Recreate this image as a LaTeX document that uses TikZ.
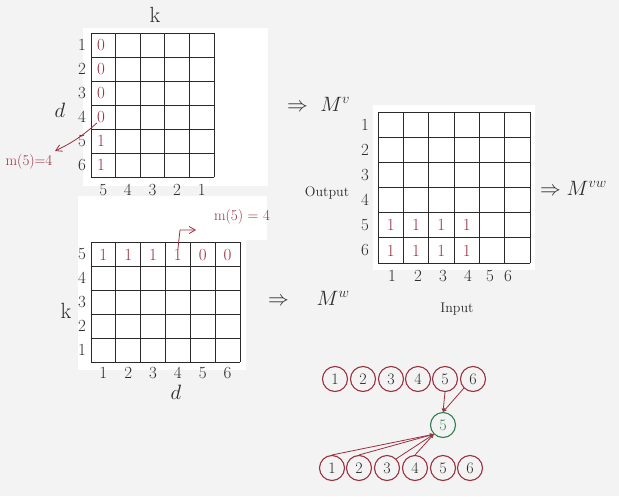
\documentclass[tikz,border=0pt]{standalone}
\usetikzlibrary{arrows.meta}
\definecolor{paper}{HTML}{F3F3F3}
\definecolor{ink}{HTML}{2A2A2A}
\definecolor{redink}{HTML}{9A3040}
\definecolor{greenink}{HTML}{2E8050}
\tikzset{
  gridline/.style={draw=ink, line width=0.9pt},
  lbl/.style={text=ink, font=\fontsize{17}{19}\selectfont, inner sep=0pt},
  txt/.style={text=ink, font=\fontsize{14}{16}\selectfont, inner sep=0pt},
  big/.style={text=ink, font=\fontsize{22}{24}\selectfont, inner sep=0pt},
  rlbl/.style={text=redink, font=\fontsize{17}{19}\selectfont, inner sep=0pt},
  rtxt/.style={text=redink, font=\fontsize{15}{17}\selectfont, inner sep=0pt},
  circ/.style={circle, draw=redink, line width=1.1pt, minimum size=25pt, inner sep=0pt, text=ink, font=\fontsize{16}{18}\selectfont},
  gcirc/.style={circle, draw=greenink, line width=1.1pt, minimum size=25pt, inner sep=0pt, text=greenink, font=\fontsize{16}{18}\selectfont},
  conn/.style={draw=redink, line width=0.8pt, -{Stealth[length=4pt,width=3.5pt]}},
}
\begin{document}
\begin{tikzpicture}[x=1pt,y=-1pt]
\useasboundingbox (0,0) rectangle (619,496);
\fill[paper] (0,0) rectangle (619,496);
% white sheets
\fill[white] (83,28) rectangle (268,186);
\fill[white] (78,196) rectangle (267,240);
\fill[white] (78,240) rectangle (246,370);
\fill[white] (373,105) rectangle (535,270);

% ---------- top-left grid (6 rows x 5 cols) ----------
\foreach \i in {0,...,5}{ \draw[gridline] ({91+24.6*\i},33) -- ({91+24.6*\i},177); }
\foreach \j in {0,...,6}{ \draw[gridline] (91,{33+24*\j}) -- (214,{33+24*\j}); }
\node[big] (k1) at (155,15) {k};
\node[big] (d1) at (60,110) {$d$};
\foreach \r in {1,...,6}{
  \node[lbl] (tlr\r) at (82,{33+12+24*(\r-1)}) {\r};
}
\foreach \c/\t in {1/5,2/4,3/3,4/2,5/1}{
  \node[lbl] (tlc\c) at ({91+12.3+24.6*(\c-1)},190) {\t};
}
\foreach \r/\t in {1/0,2/0,3/0,4/0,5/1,6/1}{
  \node[rlbl] (tlv\r) at (101,{33+12+24*(\r-1)}) {\t};
}
\node[rtxt] (m1) at (29,162) {m(5)=4};
\draw[redink, line width=0.8pt, -{Straight Barb[length=6pt,width=7pt]}] (tlv4.south west) to[bend left=8] (55,151);

% ---------- bottom-left grid (5 rows x 6 cols) ----------
\foreach \i in {0,...,6}{ \draw[gridline] ({91+24.83*\i},242) -- ({91+24.83*\i},362); }
\foreach \j in {0,...,5}{ \draw[gridline] (91,{242+24*\j}) -- (240,{242+24*\j}); }
\foreach \r/\t in {1/5,2/4,3/3,4/2,5/1}{
  \node[lbl] (blr\r) at (82,{242+12+24*(\r-1)}) {\t};
}
\foreach \c in {1,...,6}{
  \node[lbl] (blc\c) at ({91+12.4+24.83*(\c-1)},373) {\c};
}
\foreach \c/\t in {1/1,2/1,3/1,4/1,5/0,6/0}{
  \node[rlbl] (blv\c) at ({91+12.4+24.83*(\c-1)},255) {\t};
}
\node[big] (k2) at (66,311) {k};
\node[big] (d2) at (176,392) {$d$};
\node[rtxt] (m2) at (242,217) {m(5) = 4};
\coordinate (bend2) at (180,230);
\coordinate (tip2) at (196,230);
\draw[redink, line width=0.8pt, -{Straight Barb[length=6pt,width=7pt]}] (blv4.north) -- (bend2) -- (tip2);

% ---------- right grid (6 x 6) ----------
\foreach \i in {0,...,6}{ \draw[gridline] ({378+25.33*\i},112) -- ({378+25.33*\i},263); }
\foreach \j in {0,...,6}{ \draw[gridline] (378,{112+25.17*\j}) -- (530,{112+25.17*\j}); }
\foreach \r in {1,...,6}{
  \node[lbl] (rr\r) at (365,{112+12.6+25.17*(\r-1)}) {\r};
}
\foreach \c/\xx in {1/392,2/418,3/443,4/468,5/490,6/508}{
  \node[lbl] (rc\c) at (\xx,276) {\c};
}
\foreach \r in {5,6}{
  \foreach \c in {1,...,4}{
    \node[rlbl] (rv\r\c) at ({378+12.7+25.33*(\c-1)},{112+12.6+25.17*(\r-1)}) {1};
  }
}
\node[txt] (outp) at (327,193) {Output};
\node[txt] (inp) at (457,309) {Input};

% ---------- arrows to M ----------
\node[big, anchor=west] (mv) at (287,104) {$\Rightarrow\ M^{v}$};
\node[big, anchor=west] (mvw) at (540,188) {$\Rightarrow M^{vw}$};
\node[big, anchor=west] (mw) at (268,298) {$\Rightarrow\quad M^{w}$};

% ---------- graph ----------
\foreach \i/\xx in {1/335,2/363,3/391,4/418,5/445,6/473}{
  \node[circ] (t\i) at (\xx,379) {\i};
}
\foreach \i/\xx in {1/332,2/359,3/387,4/415,5/443,6/470}{
  \node[circ] (b\i) at (\xx,468) {\i};
}
\node[gcirc] (g5) at (443,425) {5};
\draw[conn] (t5.south) -- (g5.north);
\draw[conn] (t6.south west) -- (g5.north);
\draw[conn] (b1.north) -- (g5.south west);
\draw[conn] (b2.north) -- (g5.south west);
\draw[conn] (b3.north east) -- (g5.south west);
\draw[conn] (b4.north) -- (g5.south west);
\end{tikzpicture}
\end{document}
